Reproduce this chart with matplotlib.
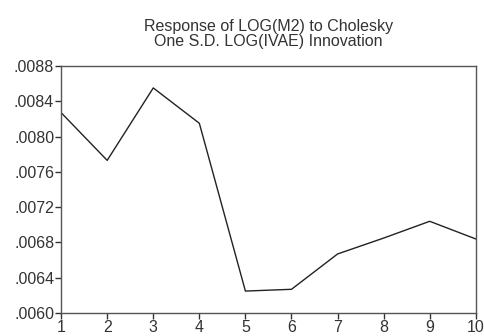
import numpy as np
import matplotlib.pyplot as plt
from matplotlib.ticker import FuncFormatter

plt.rcParams['font.family'] = ['Liberation Sans', 'DejaVu Sans']

# impulse response
period = [1, 2, 3, 4, 5, 6, 7, 8, 9, 10]
response = [0.00827, 0.00773, 0.00855, 0.00815, 0.00625, 0.00627, 0.00667, 0.00685, 0.00704, 0.00684]
yticks = [0.0060, 0.0064, 0.0068, 0.0072, 0.0076, 0.0080, 0.0084, 0.0088]

fig = plt.figure(figsize=(4.85, 3.36), dpi=100)
ax = fig.add_axes([0.126, 0.068, 0.855, 0.736])

ax.plot(period, response, color="#222222", lw=1.0)

ax.set_xlim(1, 10)
ax.set_ylim(0.0060, 0.0088)
ax.set_xticks(period)
ax.set_yticks(yticks)
ax.yaxis.set_major_formatter(FuncFormatter(lambda v, p: ("%.4f" % v).lstrip("0")))
ax.tick_params(direction="out", length=4, width=1, labelsize=11.5, colors="#333333", pad=1)
for s in ax.spines.values():
    s.set_color("#555555")
    s.set_linewidth(1.0)

ax.set_title("Response of LOG(M2) to Cholesky\nOne S.D. LOG(IVAE) Innovation",
             fontsize=11.5, color="#333333", pad=14, linespacing=1.05)

fig.savefig("out.png", dpi=100)
